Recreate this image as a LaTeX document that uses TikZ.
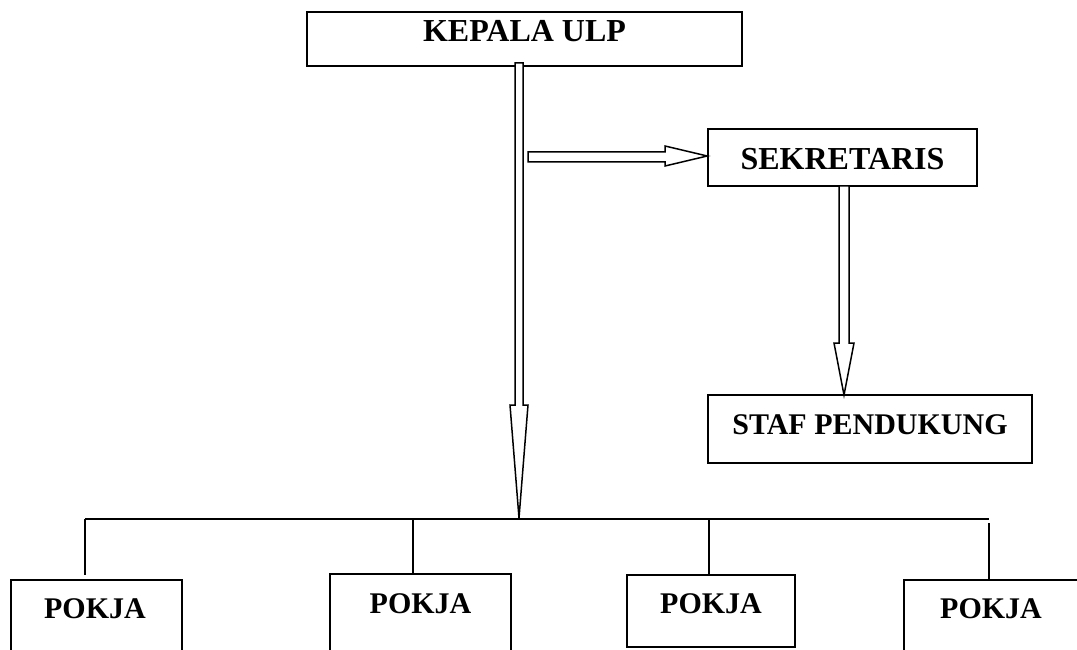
\documentclass[tikz,border=0pt]{standalone}
\usepackage{fontspec}
\setmainfont{Liberation Serif}
\begin{document}
\begin{tikzpicture}[x=1pt,y=-1pt,
  box/.style={draw, line width=1.5pt, inner sep=0pt, font=\fontsize{32}{36}\selectfont\bfseries},
  pbox/.style={box, font=\fontsize{30}{34}\selectfont\bfseries},
  blockarrow/.style={draw, fill=white, line width=1.5pt, line join=miter},
  conn/.style={line width=1.5pt}]
\clip (0,0) rectangle (1077,650);
\fill[white] (0,0) rectangle (1077,650);
% boxes
\node[box, minimum width=435pt, minimum height=54pt, text height=30pt, text depth=24pt] (kep) at (524.5,39) {KEPALA ULP};
\node[box, minimum width=269pt, minimum height=57pt, text height=41pt, text depth=16pt] (sek) at (842.5,157.5) {SEKRETARIS};
\node[box, minimum width=324pt, minimum height=68pt, text height=39pt, text depth=29pt, font=\fontsize{30}{34}\selectfont\bfseries] (staf) at (870,429) {STAF PENDUKUNG};
\node[pbox, minimum width=171pt, minimum height=100pt, text height=38pt, text depth=62pt] (p1) at (96.5,630) {POKJA\hspace*{3pt}};
\node[pbox, minimum width=181pt, minimum height=100pt, text height=39pt, text depth=61pt] (p2) at (420.5,624) {POKJA};
\node[pbox, minimum width=168pt, minimum height=72pt, text height=38pt, text depth=34pt] (p3) at (711,611) {POKJA};
\node[pbox, minimum width=186pt, minimum height=100pt, text height=38pt, text depth=62pt] (p4) at (997,630) {POKJA\hspace*{12pt}};
% block arrows
\draw[blockarrow] (515,63) -- (523,63) -- (523,405) -- (528,405) -- (519,518) -- (510,405) -- (515,405) -- cycle;
\draw[blockarrow] (528,152) -- (665,152) -- (665,146) -- (sek.west |- 0,156) -- (665,166) -- (665,162) -- (528,162) -- cycle;
\draw[blockarrow] (839,186) -- (849,186) -- (849,343) -- (854,343) -- (844,395) -- (834,343) -- (839,343) -- cycle;
% bar and drops
\coordinate (barL) at (85,519);
\coordinate (barR) at (989,519);
\draw[conn] (barL) -- (barR);
\draw[conn] (barL) -- (85,575);
\draw[conn] (413,519) -- (p2.north -| 413,0);
\draw[conn] (709,519) -- (p3.north -| 709,0);
\draw[conn] (989,523) -- (p4.north -| 989,0);
\end{tikzpicture}
\end{document}
